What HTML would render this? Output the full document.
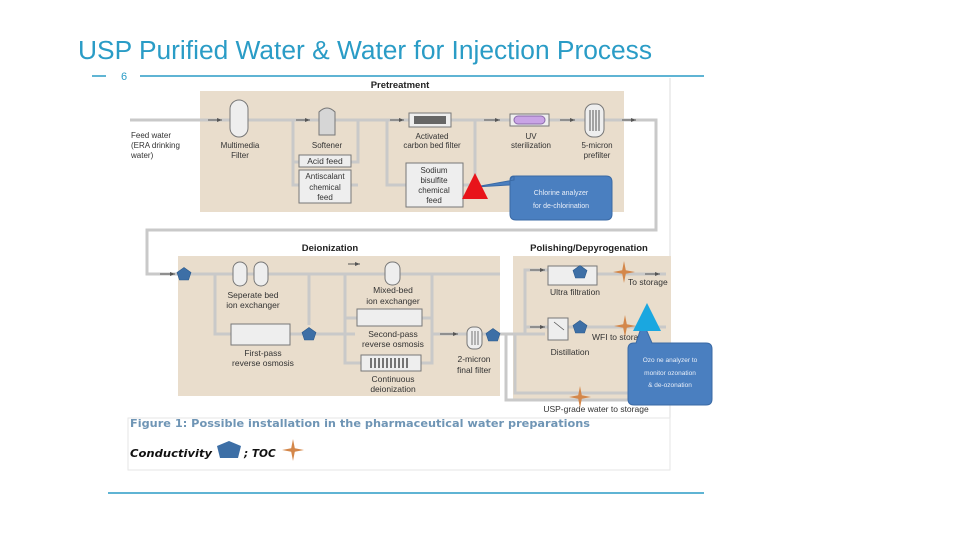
<!DOCTYPE html>
<html><head><meta charset="utf-8"><style>
html,body{margin:0;padding:0;background:#fff;}
svg{display:block;font-family:"Liberation Sans",sans-serif;}
</style></head><body>
<svg width="960" height="540" viewBox="0 0 960 540" xmlns="http://www.w3.org/2000/svg">
<defs>
<marker id="a" markerWidth="6" markerHeight="6" refX="5" refY="3" orient="auto"><path d="M0,1 L5,3 L0,5z" fill="#555"/></marker>
<g id="pent"><path d="M0,-6.5 L7,-1.5 L4.5,6 L-4.5,6 L-7,-1.5z" fill="#3d6fa6" stroke="#2c5a8c" stroke-width="0.6"/></g>
<g id="star"><path d="M0,-11 L1.8,-1.8 L11,0 L1.8,1.8 L0,11 L-1.8,1.8 L-11,0 L-1.8,-1.8z" fill="#d4874a"/></g>
</defs>
<rect width="960" height="540" fill="#fff"/>
<!-- title -->
<text x="78" y="59" font-size="26.2" fill="#2a9cc6" textLength="574" lengthAdjust="spacingAndGlyphs">USP Purified Water &amp; Water for Injection Process</text>
<line x1="92" y1="76" x2="106" y2="76" stroke="#2a9cc6" stroke-width="1.5"/>
<text x="121" y="80" font-size="11" fill="#2a9cc6">6</text>
<line x1="140" y1="76" x2="704" y2="76" stroke="#2a9cc6" stroke-width="1.5"/>
<line x1="108" y1="493" x2="704" y2="493" stroke="#2a9cc6" stroke-width="1.5"/>
<line x1="670" y1="78" x2="670" y2="470" stroke="#ddd" stroke-width="1"/>
<rect x="128" y="418" width="542" height="52" fill="none" stroke="#e6e6e6"/>

<!-- sections -->
<rect x="200" y="91" width="424" height="121" fill="#e9ddcc"/>
<rect x="178" y="256" width="322" height="140" fill="#e9ddcc"/>
<rect x="513" y="256" width="158" height="144" fill="#e9ddcc"/>
<g font-size="9.5" font-weight="bold" fill="#222" text-anchor="middle">
<text x="400" y="88">Pretreatment</text>
<text x="330" y="251">Deionization</text>
<text x="589" y="251">Polishing/Depyrogenation</text>
</g>

<!-- main pipes -->
<g fill="none" stroke="#c9c9c9" stroke-width="3">
<polyline points="130,120 656,120 656,230 147,230 147,274 178,274"/>
<polyline points="178,274 500,274"/>
<polyline points="293,120 293,185 299,185"/><polyline points="293,162 299,162"/>
<polyline points="351,162 358,162 358,120"/><polyline points="351,185 358,185"/>
<polyline points="387,120 387,185 406,185"/>
<polyline points="463,185 475,185 475,120"/>
<polyline points="215,274 215,334 231,334"/><polyline points="290,334 355,334"/>
<polyline points="309,274 309,325"/>
<polyline points="345,334 345,274 345,363 361,363"/><polyline points="345,318 357,318"/><polyline points="422,318 432,318 432,363 421,363"/>
<polyline points="432,274 432,334 467,334"/>
<polyline points="482,334 500,334 545,334"/>
<polyline points="525,334 525,270 548,270"/><polyline points="525,327 548,327"/>
<polyline points="506,334 506,400 666,400"/><polyline points="515,334 515,393 666,393"/>
<polyline points="597,274 666,274"/><polyline points="568,327 666,327"/>
</g>
<!-- arrow ticks -->
<g stroke="#555" stroke-width="1" marker-end="url(#a)">
<line x1="208" y1="120" x2="222" y2="120"/><line x1="296" y1="120" x2="310" y2="120"/>
<line x1="390" y1="120" x2="404" y2="120"/><line x1="484" y1="120" x2="500" y2="120"/>
<line x1="560" y1="120" x2="575" y2="120"/><line x1="622" y1="120" x2="636" y2="120"/>
<line x1="160" y1="274" x2="175" y2="274"/><line x1="348" y1="264" x2="360" y2="264"/>
<line x1="440" y1="334" x2="458" y2="334"/><line x1="530" y1="270" x2="545" y2="270"/>
<line x1="530" y1="327" x2="545" y2="327"/><line x1="645" y1="274" x2="660" y2="274"/>
</g>

<!-- pretreatment equipment -->
<g fill="#eeeeee" stroke="#777" stroke-width="1">
<rect x="230" y="100" width="18" height="37" rx="9"/>
<path d="M319,135 L319,112 Q327,104 335,112 L335,135z" fill="#d6d6d6"/>
<rect x="299" y="155" width="52" height="12"/>
<rect x="299" y="170" width="52" height="33"/>
<rect x="409" y="113" width="42" height="14"/>
<rect x="406" y="163" width="57" height="44"/>
<rect x="510" y="114" width="39" height="12"/>
<rect x="585" y="104" width="19" height="33" rx="8"/>
</g>
<rect x="414" y="116" width="32" height="8" fill="#666"/>
<rect x="514" y="116" width="31" height="8" rx="4" fill="#c9a4e6" stroke="#8a6aaa"/>
<g stroke="#555" stroke-width="1"><line x1="590" y1="110" x2="590" y2="131"/><line x1="593" y1="110" x2="593" y2="131"/><line x1="596" y1="110" x2="596" y2="131"/><line x1="599" y1="110" x2="599" y2="131"/></g>
<g font-size="8" fill="#333" text-anchor="middle">
<text x="131" y="138" text-anchor="start">Feed water</text>
<text x="131" y="148" text-anchor="start">(ERA drinking</text>
<text x="131" y="158" text-anchor="start">water)</text>
<text x="240" y="148">Multimedia</text><text x="240" y="158">Filter</text>
<text x="327" y="148">Softener</text>
<text x="325" y="164" font-size="8.5">Acid feed</text>
<text x="325" y="179">Antiscalant</text><text x="325" y="190">chemical</text><text x="325" y="200">feed</text>
<text x="432" y="139">Activated</text><text x="432" y="148">carbon bed filter</text>
<text x="434" y="173">Sodium</text><text x="434" y="183">bisulfite</text><text x="434" y="193">chemical</text><text x="434" y="203">feed</text>
<text x="531" y="139">UV</text><text x="531" y="148">sterilization</text>
<text x="597" y="148">5-micron</text><text x="597" y="158">prefilter</text>
</g>
<!-- chlorine callout -->
<path d="M475,187 L514,180 L514,176 Q510,176 510,180 L510,214 Q510,220 516,220 L606,220 Q612,220 612,214 L612,182 Q612,176 606,176 L516,176 Q510,176 510,182 L510,185z" fill="#4a7fc0" stroke="#3a6aa5"/>
<text x="561" y="195" font-size="7" fill="#e8eef8" text-anchor="middle">Chlorine analyzer</text>
<text x="561" y="208" font-size="7" fill="#e8eef8" text-anchor="middle">for de-chlorination</text>
<path d="M475,173 L488,199 L462,199z" fill="#e8141a"/>

<!-- deionization equipment -->
<g fill="#eeeeee" stroke="#777" stroke-width="1">
<rect x="233" y="262" width="14" height="24" rx="7"/><rect x="254" y="262" width="14" height="24" rx="7"/>
<rect x="231" y="324" width="59" height="21"/>
<rect x="385" y="262" width="15" height="23" rx="7"/>
<rect x="357" y="309" width="65" height="17"/>
<rect x="361" y="355" width="60" height="16"/>
<rect x="467" y="327" width="15" height="22" rx="6"/>
<rect x="548" y="266" width="49" height="19"/>
<rect x="548" y="318" width="20" height="22"/>
</g>
<g stroke="#333" stroke-width="1.3"><line x1="371" y1="358" x2="371" y2="368"/><line x1="375" y1="358" x2="375" y2="368"/><line x1="379" y1="358" x2="379" y2="368"/><line x1="383" y1="358" x2="383" y2="368"/><line x1="387" y1="358" x2="387" y2="368"/><line x1="391" y1="358" x2="391" y2="368"/><line x1="395" y1="358" x2="395" y2="368"/><line x1="399" y1="358" x2="399" y2="368"/><line x1="403" y1="358" x2="403" y2="368"/><line x1="407" y1="358" x2="407" y2="368"/></g>
<g stroke="#555" stroke-width="0.8"><line x1="472" y1="331" x2="472" y2="345"/><line x1="475" y1="331" x2="475" y2="345"/><line x1="478" y1="331" x2="478" y2="345"/><line x1="554" y1="322" x2="564" y2="330"/></g>
<g font-size="8.5" fill="#333" text-anchor="middle">
<text x="253" y="298">Seperate bed</text><text x="253" y="308">ion exchanger</text>
<text x="263" y="356">First-pass</text><text x="263" y="366">reverse osmosis</text>
<text x="393" y="293">Mixed-bed</text><text x="393" y="304">ion exchanger</text>
<text x="393" y="337">Second-pass</text><text x="393" y="347">reverse osmosis</text>
<text x="393" y="382">Continuous</text><text x="393" y="392">deionization</text>
<text x="474" y="362">2-micron</text><text x="474" y="373">final filter</text>
<text x="575" y="295">Ultra filtration</text>
<text x="570" y="355">Distillation</text>
<text x="628" y="285" text-anchor="start">To storage</text>
<text x="592" y="340" text-anchor="start">WFI to storage</text>
<text x="596" y="412">USP-grade water to storage</text>
</g>
<use href="#pent" x="184" y="274"/><use href="#pent" x="309" y="334"/><use href="#pent" x="493" y="335"/>
<use href="#pent" x="580" y="272"/><use href="#pent" x="580" y="327"/>
<use href="#star" x="624" y="272"/><use href="#star" x="625" y="326"/><use href="#star" x="580" y="397"/>

<!-- ozone callout -->
<path d="M643,322 L636,343 L634,343 Q628,343 628,349 L628,399 Q628,405 634,405 L706,405 Q712,405 712,399 L712,349 Q712,343 706,343 L652,343z" fill="#4a7fc0" stroke="#3a6aa5"/>
<path d="M647,303 L661,331 L633,331z" fill="#1aa7e0"/>
<g font-size="6.5" fill="#e8eef8" text-anchor="middle">
<text x="670" y="362">Ozo ne analyzer to</text><text x="670" y="375">monitor ozonation</text><text x="670" y="387">&amp; de-ozonation</text>
</g>

<!-- caption -->
<text x="130" y="427" font-size="11" font-weight="bold" fill="#6f95b5" font-family="DejaVu Sans, sans-serif" textLength="460" lengthAdjust="spacingAndGlyphs">Figure 1: Possible installation  in the pharmaceutical  water preparations</text>
<text x="130" y="457" font-size="10.5" font-weight="bold" font-style="italic" fill="#111" font-family="DejaVu Sans, sans-serif" textLength="82" lengthAdjust="spacingAndGlyphs">Conductivity</text>
<path d="M229,441 L241,446 L238,458 L220,458 L217,446z" fill="#3d6fa6"/>
<text x="244" y="457" font-size="10.5" font-weight="bold" font-style="italic" fill="#111" font-family="DejaVu Sans, sans-serif">; TOC</text>
<use href="#star" x="293" y="450"/>
</svg>
</body></html>
